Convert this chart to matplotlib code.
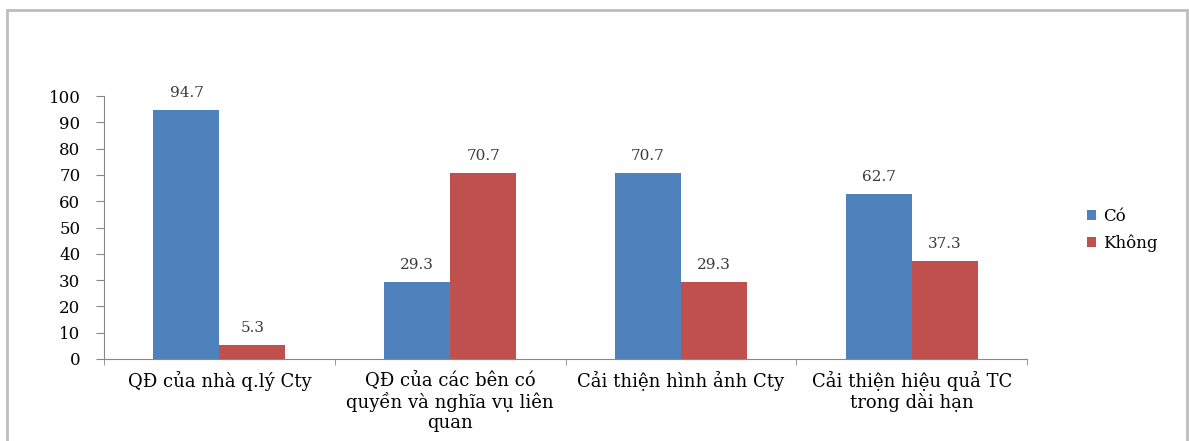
import matplotlib.pyplot as plt
import numpy as np
from matplotlib.patches import Rectangle

categories = ["QĐ của nhà q.lý Cty",
              "QĐ của các bên có\nquyền và nghĩa vụ liên\nquan",
              "Cải thiện hình ảnh Cty",
              "Cải thiện hiệu quả TC\ntrong dài hạn"]
co = [94.7, 29.3, 70.7, 62.7]
khong = [5.3, 70.7, 29.3, 37.3]
series_names = ["Có", "Không"]

plt.rcParams['font.family'] = ['DejaVu Serif']

fig = plt.figure(figsize=(11.89, 4.41), dpi=100)
ax = fig.add_axes([0.0875, 0.186, 0.7763, 0.596])

# chart frame
fig.patches.append(Rectangle((7/1189, -0.1), 1180/1189, 1.1 - 10/441,
                             transform=fig.transFigure, fill=False,
                             edgecolor='#bdbdbd', linewidth=2))

x = np.arange(len(categories))
w = 1 / 3.5
b1 = ax.bar(x - w/2, co, w, color='#4f81bd', label=series_names[0])
b2 = ax.bar(x + w/2, khong, w, color='#c0504d', label=series_names[1])
for bars in (b1, b2):
    ax.bar_label(bars, fmt='%.1f', padding=7, fontsize=11, color='#3a3a3a')

ax.set_xlim(-0.5, len(categories) - 0.5)
ax.set_ylim(0, 100)
ax.set_yticks(range(0, 101, 10))
ax.tick_params(axis='y', labelsize=12, length=6, color='#888888', pad=11)
ax.set_xticks(x)
ax.set_xticklabels(categories, fontsize=13, linespacing=1.12)
ax.tick_params(axis='x', length=0, pad=9)
# tick marks between categories
ax.set_xticks(np.arange(-0.5, len(categories)), minor=True)
ax.tick_params(axis='x', which='minor', length=4, color='#888888', direction='out')

for s in ('top', 'right'):
    ax.spines[s].set_visible(False)
for s in ('left', 'bottom'):
    ax.spines[s].set_color('#888888')

fig.legend(handles=[b1, b2], loc='center left', bbox_to_anchor=(1072/1189, 1 - 230/441),
           frameon=False, fontsize=12, handlelength=0.55, handleheight=0.55,
           handletextpad=0.4, labelspacing=0.55)

fig.savefig('out.png', dpi=100)
